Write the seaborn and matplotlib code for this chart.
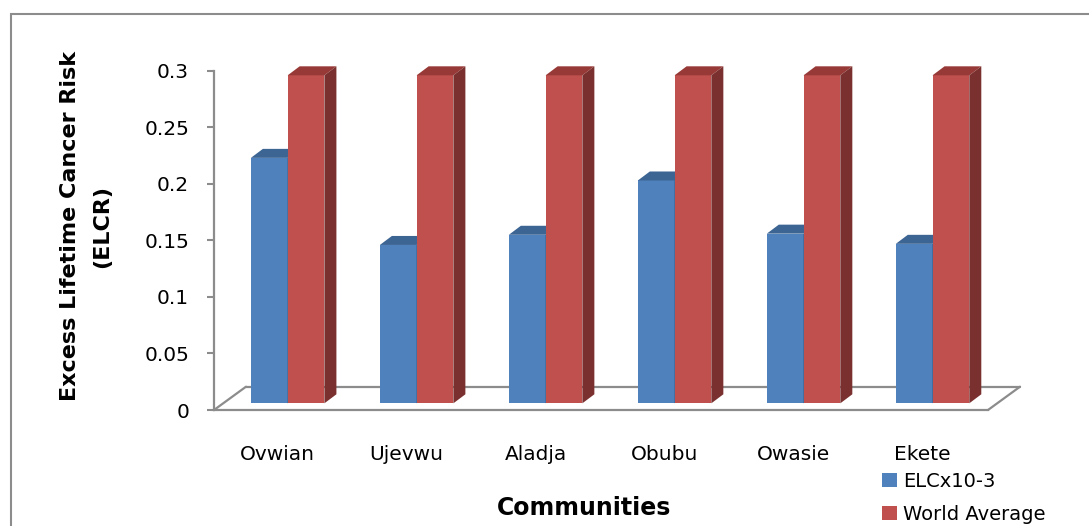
import numpy as np
import pandas as pd
import matplotlib
matplotlib.use("Agg")
import matplotlib.pyplot as plt
import seaborn as sns
from matplotlib.patches import Polygon, Rectangle
from matplotlib.lines import Line2D
from matplotlib.transforms import ScaledTranslation

# ---- data ----
communities = ["Ovwian", "Ujevwu", "Aladja", "Obubu", "Owasie", "Ekete"]
elcr = [0.217, 0.140, 0.149, 0.197, 0.150, 0.141]
world_avg = [0.29, 0.29, 0.29, 0.29, 0.29, 0.29]
series_names = ["ELCx10-3", "World Average"]
y_ticks = [0, 0.05, 0.1, 0.15, 0.2, 0.25, 0.3]
y_tick_labels = ["0", "0.05", "0.1", "0.15", "0.2", "0.25", "0.3"]

df = pd.DataFrame({
    "Community": communities + communities,
    "Value": elcr + world_avg,
    "Series": [series_names[0]] * len(communities) + [series_names[1]] * len(communities),
})

# ---- style ----
sns.set_style("white")
plt.rcParams["font.family"] = ["DejaVu Sans"]
plt.rcParams["text.color"] = "black"

W, H = 1089, 526
fig = plt.figure(figsize=(W / 100, H / 100), dpi=100)

front_cols = ["#4F81BD", "#C0504D"]
top_cols = ["#3C6594", "#973A37"]
side_cols = ["#34577F", "#7A302E"]
grey = "#8C8C8C"

# pixel geometry
ax_l, ax_r = 214, 988
tick_bottom, tick_top = 410, 70.7
bar_bottom = 403.3
ax_h = tick_bottom - tick_top
ax_w = ax_r - ax_l
xlim = (-0.571, 5.43)
ylim = (0, 0.3)


def rect(left, right, bottom, top):
    return [left / W, 1 - bottom / H, (right - left) / W, (bottom - top) / H]


ax = fig.add_axes(rect(ax_l, ax_r, tick_bottom, tick_top))
axb = fig.add_axes(rect(ax_l, ax_r, bar_bottom, bar_bottom - ax_h))
for a in (ax, axb):
    a.set_xlim(*xlim)
    a.set_ylim(*ylim)
    a.patch.set_visible(False)

# bars
sns.barplot(data=df, x="Community", y="Value", hue="Series", palette=front_cols,
            width=0.57, ax=axb, linewidth=0, saturation=1)
axb.set_xlim(*xlim)
axb.set_ylim(*ylim)
handles, labels = axb.get_legend_handles_labels()
if axb.get_legend() is not None:
    axb.get_legend().remove()
axb.axis("off")

dx = 12 * (xlim[1] - xlim[0]) / ax_w
dy = 9 * (ylim[1] - ylim[0]) / ax_h
for i, cont in enumerate(axb.containers):
    for bar in cont:
        x0 = bar.get_x()
        w = bar.get_width()
        h = bar.get_height()
        bar.set_zorder(2 + i)
        top = Polygon([(x0, h), (x0 + w, h), (x0 + w + dx, h + dy), (x0 + dx, h + dy)],
                      closed=True, facecolor=top_cols[i], edgecolor="none",
                      zorder=2.5 + i, clip_on=False)
        side = Polygon([(x0 + w, 0), (x0 + w + dx, dy), (x0 + w + dx, h + dy), (x0 + w, h)],
                       closed=True, facecolor=side_cols[i], edgecolor="none",
                       zorder=2.5 + i, clip_on=False)
        axb.add_patch(top)
        axb.add_patch(side)

# axis with ticks + floor
for s in ["top", "right"]:
    ax.spines[s].set_visible(False)
for s in ["left", "bottom"]:
    ax.spines[s].set_color(grey)
    ax.spines[s].set_linewidth(1.6)
ax.set_yticks(y_ticks)
ax.set_yticklabels(y_tick_labels)
ax.tick_params(axis="y", which="both", left=True, length=5, width=1.5, color=grey,
               pad=13, labelsize=14.5, labelcolor="black")
ax.set_xticks(range(len(communities)))
ax.set_xticklabels(communities)
ax.tick_params(axis="x", length=0, pad=25, labelsize=14.5, labelcolor="black")
for lbl in ax.get_xticklabels():
    lbl.set_transform(lbl.get_transform() + ScaledTranslation(-10 / 100, 0, fig.dpi_scale_trans))
ax.set_xlabel("")
ax.set_ylabel("")

fx = 32 / ax_w
fy = 23.3 / ax_h
for xs, ys in [((0, fx), (0, fy)), ((fx, 1 + fx), (fy, fy)), ((1, 1 + fx), (0, fy))]:
    ax.add_line(Line2D(xs, ys, transform=ax.transAxes, color=grey, lw=1.6,
                       clip_on=False, zorder=1))

# labels
fig.text(86 / W, 1 - 226.5 / H, "Excess Lifetime Cancer Risk\n(ELCR)", rotation=90,
         ha="center", va="center", multialignment="center", fontsize=16,
         fontweight="bold", linespacing=1.8, color="black")
fig.text(584.5 / W, 1 - 515 / H, "Communities", ha="center", va="baseline",
         fontsize=17, fontweight="bold", color="black")

# legend
fig.legend(handles, labels, loc="upper left", bbox_to_anchor=(882 / W, 1 - 472 / H),
           frameon=False, fontsize=14, handlelength=0.75, handleheight=0.75,
           handletextpad=0.35, labelspacing=0.72, borderaxespad=0, borderpad=0,
           labelcolor="black")

# outer frame
fig.add_artist(Rectangle((11 / W, -0.1), 1.2, (1 - 14 / H) + 0.1, transform=fig.transFigure,
                         fill=False, edgecolor=grey, lw=1.5))

fig.savefig("out.png", dpi=100)
